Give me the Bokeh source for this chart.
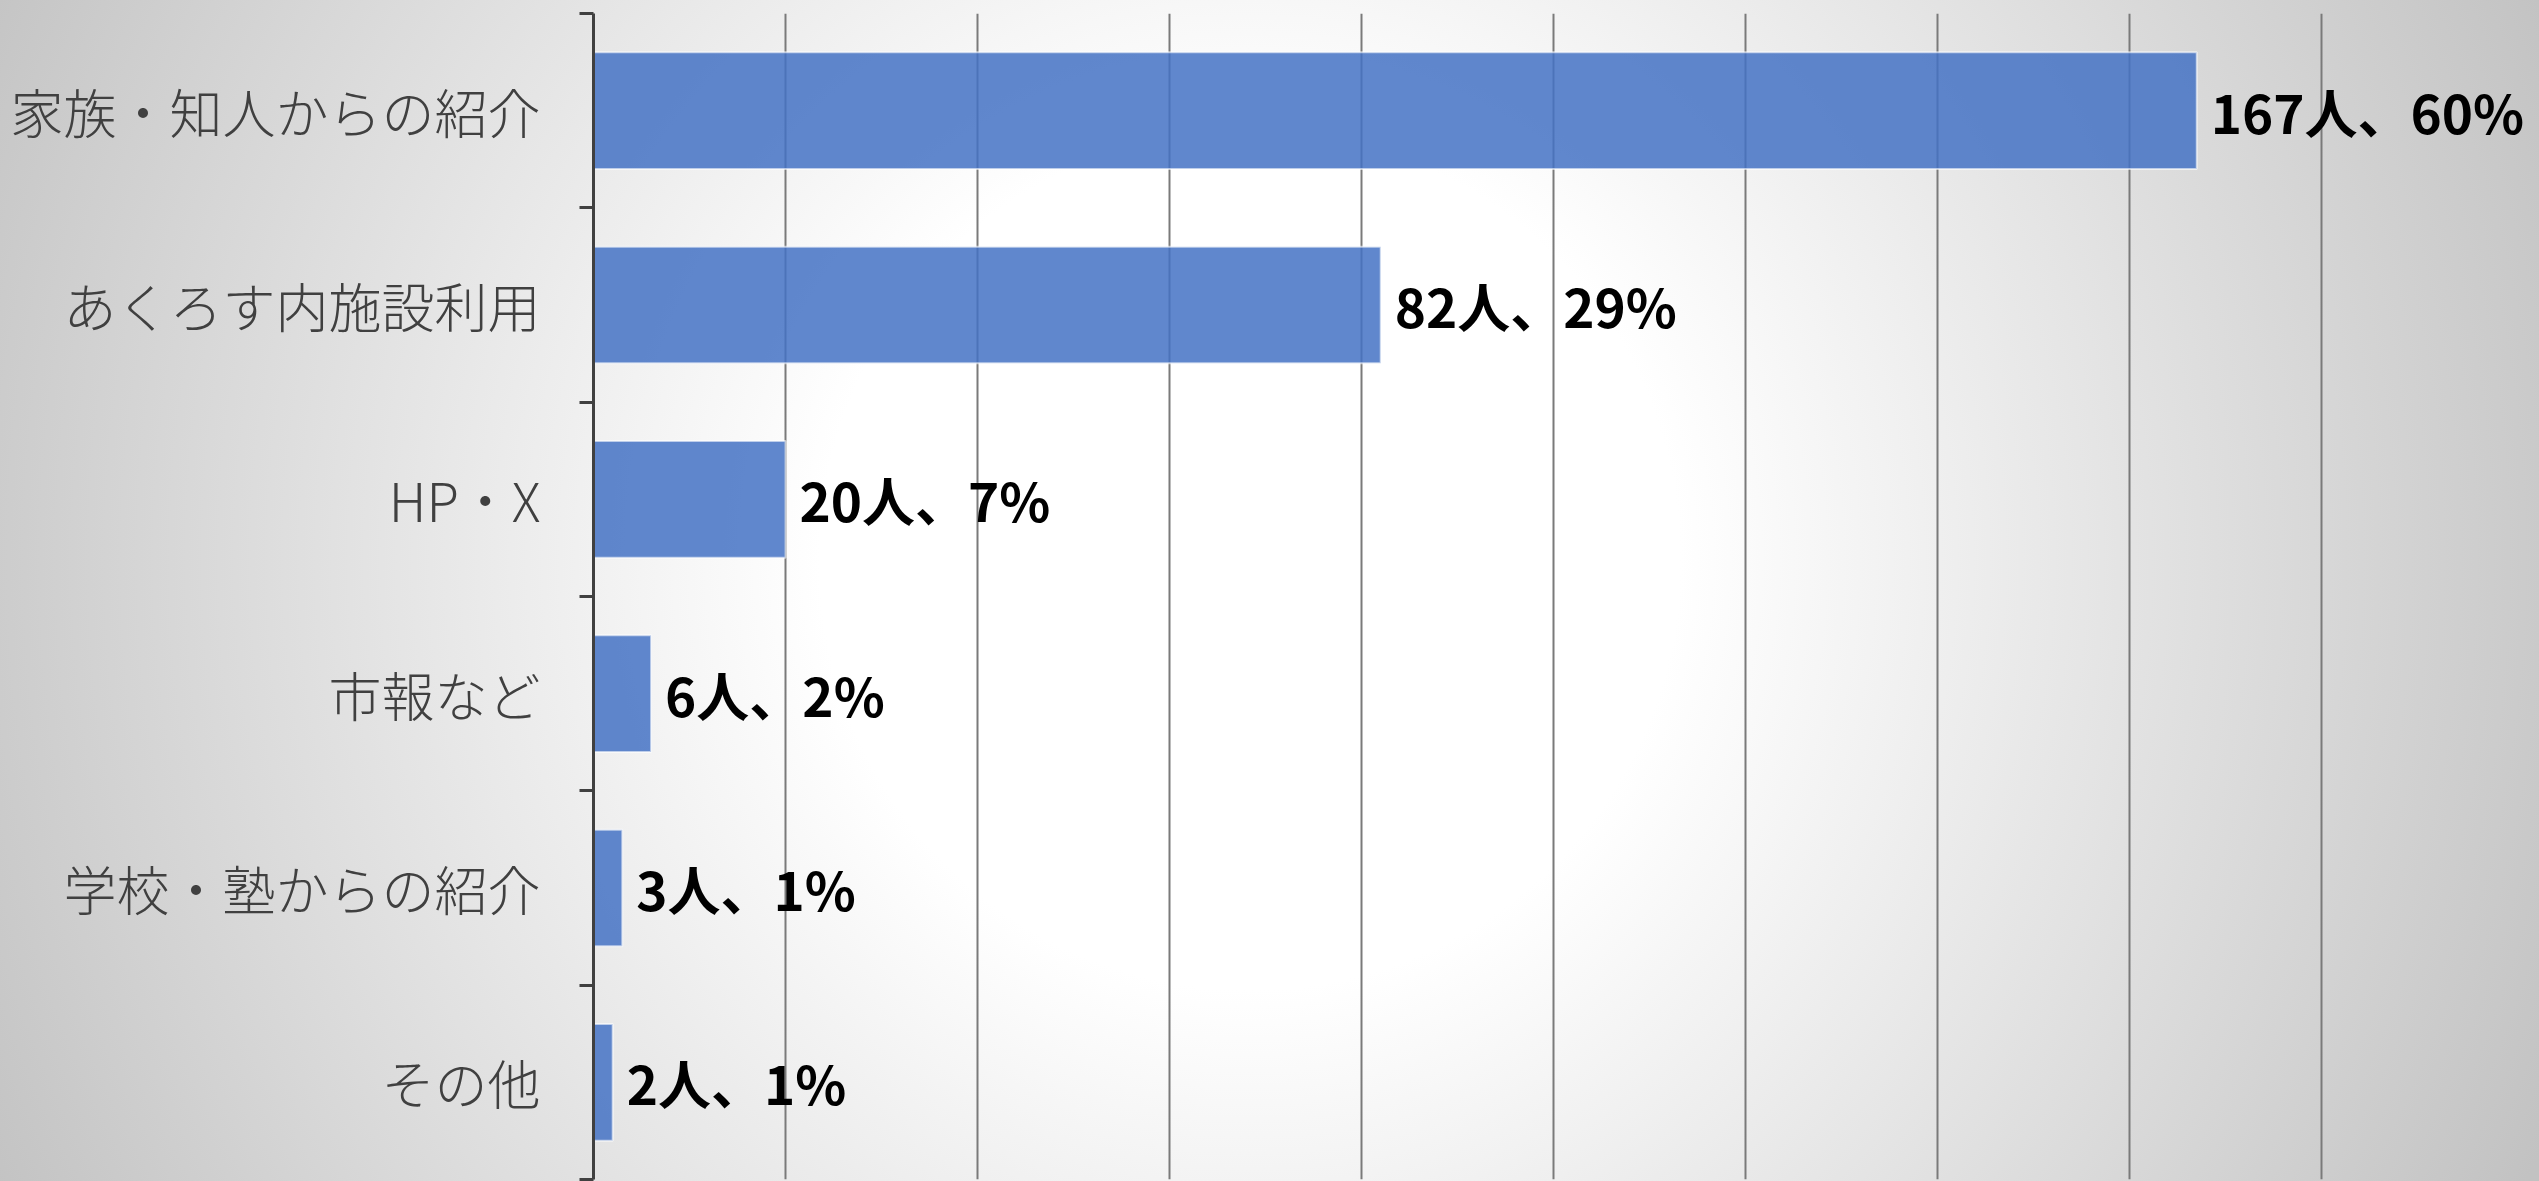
from bokeh.plotting import figure
from bokeh.models import ColumnDataSource, Range1d, FixedTicker, LabelSet
from bokeh.core.properties import value
from bokeh.embed import file_html
from bokeh.resources import INLINE

categories = ["家族・知人からの紹介", "あくろす内施設利用", "HP・X", "市報など", "学校・塾からの紹介", "その他"]
counts = [167, 82, 20, 6, 3, 2]
percents = [60, 29, 7, 2, 1, 1]
grid_ticks = [20, 40, 60, 80, 100, 120, 140, 160, 180]

n = len(categories)
ypos = [n - i - 0.5 for i in range(n)]
labels = [f"{c}人、{p}%" for c, p in zip(counts, percents)]

src = ColumnDataSource(dict(y=ypos, x=counts, label=labels, cat=categories))

p = figure(width=2539, height=1181, output_backend="svg", toolbar_location=None,
           x_range=Range1d(0, 202.7), y_range=Range1d(0, n),
           min_border_left=593, min_border_right=0, min_border_top=13, min_border_bottom=2)

p.background_fill_alpha = 0
p.border_fill_alpha = 0
p.outline_line_color = None
p.styles = {"background": "radial-gradient(circle at 1250px 560px, #ffffff 0px, #ffffff 430px, #c2c2c2 1420px)"}

p.hbar(y="y", right="x", left=0, height=0.6, source=src,
       fill_color="#4472C4", fill_alpha=0.85, line_color="white", line_alpha=0.6, line_width=2)

lab = LabelSet(x="x", y="y", text="label", source=src, x_offset=14, y_offset=0,
               text_baseline="middle", text_align="left",
               text_font=value("Noto Sans CJK JP"), text_font_style="bold",
               text_font_size="53px", text_color="#000000")
p.add_layout(lab)

p.xaxis.visible = False
p.xgrid.ticker = FixedTicker(ticks=grid_ticks)
p.xgrid.grid_line_color = "#7a7a7a"
p.xgrid.grid_line_width = 2
p.ygrid.visible = False

yax = p.yaxis[0]
yax.ticker = FixedTicker(ticks=ypos, minor_ticks=list(range(n + 1)))
yax.major_label_overrides = {y: c for y, c in zip(ypos, categories)}
yax.major_tick_line_color = None
yax.major_tick_in = 0
yax.major_tick_out = 0
yax.minor_tick_in = 0
yax.minor_tick_out = 14
yax.minor_tick_line_color = "#404040"
yax.minor_tick_line_width = 3
yax.axis_line_color = "#404040"
yax.axis_line_width = 3
yax.major_label_standoff = 39
yax.major_label_text_font = "'Noto Sans CJK JP Light', 'Noto Sans CJK JP'"
yax.major_label_text_font_size = "53px"
yax.major_label_text_color = "#404040"
yax.major_label_text_font_style = "normal"

open("out.html", "w").write(file_html(p, INLINE))
